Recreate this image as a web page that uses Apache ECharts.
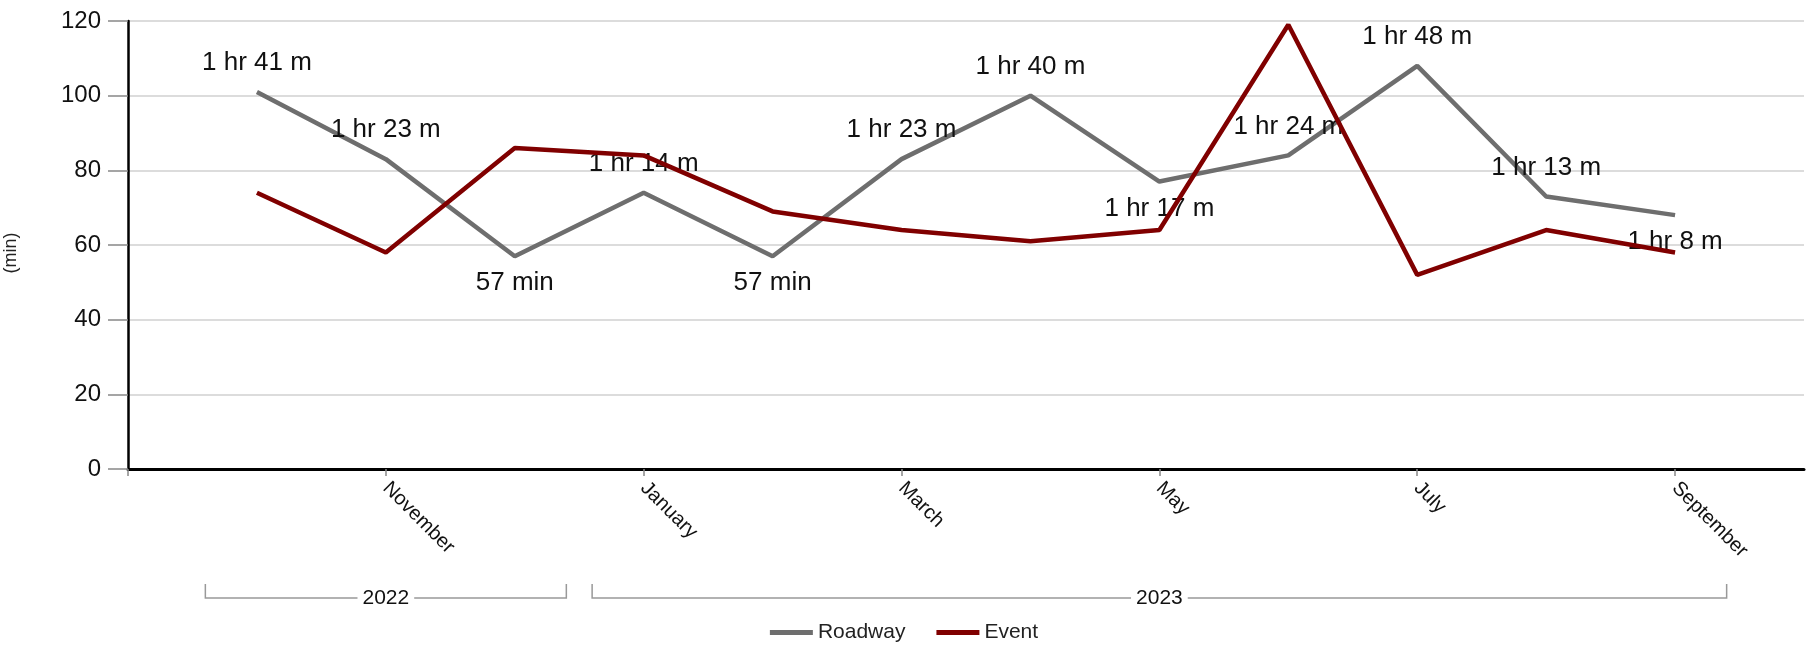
<!DOCTYPE html>
<html>
<head>
<meta charset="utf-8">
<script src="https://cdn.jsdelivr.net/npm/echarts@6/dist/echarts.min.js"></script>
<style>
html,body{margin:0;padding:0;background:#fff;}
#chart{width:1808px;height:645px;}
</style>
</head>
<body>
<div id="chart"></div>
<script>
// ---- data ----
var months = ['', 'October', 'November', 'December', 'January', 'February', 'March', 'April', 'May', 'June', 'July', 'August', 'September', ''];
var roadway = [101, 83, 57, 74, 57, 83, 100, 77, 84, 108, 73, 68];
var eventVals = [74, 58, 86, 84, 69, 64, 61, 64, 119, 52, 64, 58];
var yTicks = [0, 20, 40, 60, 80, 100, 120];
var years = ['2022', '2023'];
var yearSpans = [[1, 3], [4, 12]]; // category index ranges covered by each year

var FONT = 'Liberation Sans, Arial, sans-serif';

function fmtMin(v) {
  if (v < 60) return v + ' min';
  return Math.floor(v / 60) + ' hr ' + (v % 60) + ' m';
}

function pad(arr) { return [null].concat(arr).concat([null]); }

var roadData = pad(roadway).map(function (v, i, a) {
  if (v === null) return '-';
  var prev = a[i - 1] === null || a[i - 1] === undefined ? Infinity : a[i - 1];
  var next = a[i + 1] === null || a[i + 1] === undefined ? Infinity : a[i + 1];
  var below = v < prev && v < next;
  return { value: v, label: { position: below ? 'bottom' : 'top', distance: below ? 14 : 16 } };
});
var eventData = pad(eventVals).map(function (v) { return v === null ? '-' : v; });

var chart = echarts.init(document.getElementById('chart'), null, { renderer: 'canvas' });

var option = {
  animation: false,
  backgroundColor: '#fff',
  textStyle: { fontFamily: FONT },
  grid: { left: 128, right: 4, top: 21, bottom: 176, containLabel: false, outerBoundsMode: 'none' },
  legend: {
    data: ['Roadway', 'Event'],
    left: 'center',
    top: 617,
    icon: 'rect',
    itemWidth: 43,
    itemHeight: 5,
    itemGap: 31,
    textStyle: { fontSize: 21, color: '#222', fontFamily: FONT }
  },
  xAxis: {
    type: 'category',
    data: months,
    boundaryGap: false,
    axisLine: { lineStyle: { color: '#000', width: 3 } },
    axisTick: { show: true, interval: 1, length: 7, lineStyle: { color: '#888', width: 1.5 } },
    axisLabel: { interval: 1, rotate: -45, fontSize: 20, color: '#111', margin: 16, fontFamily: FONT },
    splitLine: { show: false }
  },
  yAxis: {
    type: 'value',
    min: yTicks[0],
    max: yTicks[yTicks.length - 1],
    interval: yTicks[1] - yTicks[0],
    name: '(min)',
    nameLocation: 'middle',
    nameRotate: 90,
    nameGap: 108,
    nameTextStyle: { fontSize: 18, color: '#222', fontFamily: FONT, padding: [0, 16, 0, 0] },
    axisLine: { show: true, lineStyle: { color: '#000', width: 2.5 } },
    axisTick: { show: true, length: 20, lineStyle: { color: '#888', width: 1.5 } },
    axisLabel: { fontSize: 24, color: '#111', margin: 27, fontFamily: FONT },
    splitLine: { show: true, lineStyle: { color: '#dcdcdc', width: 2 } }
  },
  series: [
    {
      name: 'Roadway',
      type: 'line',
      data: roadData,
      symbol: 'circle',
      symbolSize: 0,
      showSymbol: true,
      lineStyle: { color: '#6e6e6e', width: 4.5 },
      itemStyle: { color: '#6e6e6e' },
      label: {
        show: true,
        fontSize: 26,
        color: '#111',
        fontFamily: FONT,
        formatter: function (p) { return fmtMin(p.value); }
      },
      emphasis: { disabled: true },
      z: 2
    },
    {
      name: 'Event',
      type: 'line',
      data: eventData,
      symbol: 'none',
      lineStyle: { color: '#800000', width: 4.5 },
      itemStyle: { color: '#800000' },
      emphasis: { disabled: true },
      z: 3
    }
  ]
};

chart.setOption(option);

// year brackets below the month labels, positioned from the axis scale
function drawBrackets() {
  var p0 = chart.convertToPixel({ xAxisIndex: 0 }, 0);
  var p1 = chart.convertToPixel({ xAxisIndex: 0 }, 1);
  var step = p1 - p0;
  var yLine = 598, yTop = 584;
  var elements = [];
  years.forEach(function (yr, i) {
    var a = chart.convertToPixel({ xAxisIndex: 0 }, yearSpans[i][0]) - 0.4 * step;
    var b = chart.convertToPixel({ xAxisIndex: 0 }, yearSpans[i][1]) + 0.4 * step;
    elements.push({
      type: 'polyline',
      shape: { points: [[a, yTop], [a, yLine], [b, yLine], [b, yTop]] },
      style: { stroke: '#999', lineWidth: 1.5, fill: null },
      silent: true
    });
    elements.push({
      type: 'text',
      x: (a + b) / 2,
      y: yLine,
      style: {
        text: yr,
        fontSize: 21,
        fontFamily: FONT,
        fill: '#111',
        align: 'center',
        verticalAlign: 'middle',
        backgroundColor: '#fff',
        padding: [0, 5]
      },
      z: 10,
      silent: true
    });
  });
  chart.setOption({ graphic: { elements: elements } });
}
drawBrackets();
</script>
</body>
</html>
